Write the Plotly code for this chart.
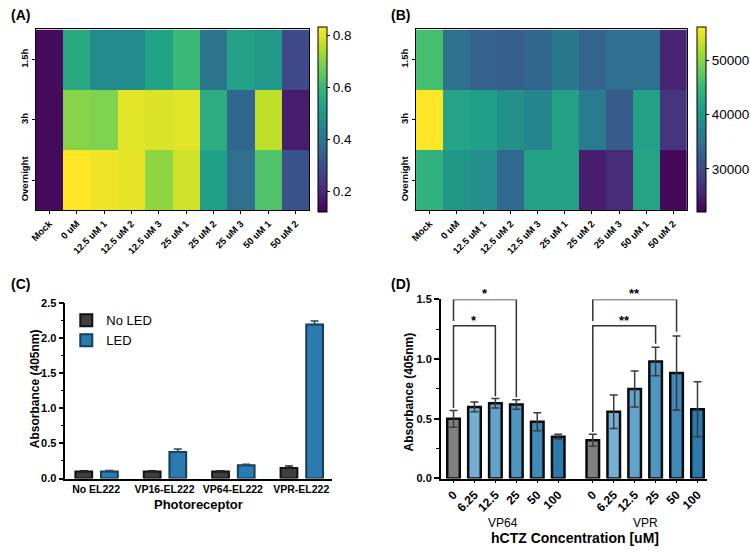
import plotly.graph_objects as go

FONT = "Liberation Sans, Arial, sans-serif"

# ---------------- data ----------------
conditions = ["Mock", "0 uM", "12.5 uM 1", "12.5 uM 2", "12.5 uM 3",
              "25 uM 1", "25 uM 2", "25 uM 3", "50 uM 1", "50 uM 2"]
timepoints = ["1.5h", "3h", "Overnight"]

# Panel A (absorbance heatmap)
a_15h = [0.14, 0.55, 0.46, 0.46, 0.53, 0.60, 0.40, 0.525, 0.50, 0.28]
a_3h = [0.14, 0.70, 0.69, 0.80, 0.795, 0.80, 0.56, 0.355, 0.76, 0.175]
a_ovn = [0.14, 0.83, 0.815, 0.805, 0.71, 0.78, 0.52, 0.38, 0.63, 0.30]

# Panel B (heatmap)
b_15h = [45800, 34600, 32500, 32200, 33200, 35600, 32900, 34200, 34200, 25400]
b_3h = [56000, 41700, 41000, 39000, 37600, 41400, 36300, 31900, 41400, 27100]
b_ovn = [43800, 40000, 39000, 33600, 41400, 41400, 24700, 26100, 41800, 22700]

# Panel C
photoreceptors = ["No EL222", "VP16-EL222", "VP64-EL222", "VPR-EL222"]
no_led_mean = [0.10, 0.10, 0.10, 0.15]
no_led_err = [0.01, 0.01, 0.01, 0.03]
led_mean = [0.10, 0.38, 0.19, 2.20]
led_err = [0.015, 0.04, 0.015, 0.05]

# Panel D
doses = ["0", "6.25", "12.5", "25", "50", "100"]
groups = ["VP64", "VPR"]
vp64_mean = [0.50, 0.60, 0.63, 0.62, 0.475, 0.35]
vp64_err = [0.07, 0.04, 0.04, 0.04, 0.075, 0.02]
vpr_mean = [0.32, 0.56, 0.75, 0.98, 0.885, 0.58]
vpr_err = [0.05, 0.14, 0.15, 0.12, 0.31, 0.23]
dose_colors = ["#808080", "#74b0d4", "#62a3cb", "#4f96c3", "#3f8abb", "#2a7aad"]

# significance brackets (group, from dose idx, to dose idx, top, left end, right end, label)
br_group = [0, 0, 1, 1]
br_from = [0, 0, 0, 0]
br_to = [3, 2, 4, 3]
br_top = [1.50, 1.28, 1.50, 1.28]
br_left_end = [1.32, 0.59, 1.32, 0.39]
br_right_end = [0.68, 0.69, 1.23, 1.13]
br_label = ["*", "*", "**", "**"]

# group underline extents in panel D (in dose-index units, relative to group start)
grp_line_lo = [-0.47, -0.35]
grp_line_hi = [5.2, 5.43]

# ---------------- layout helpers ----------------
W, H = 750, 552
GROUP_GAP = 6.65  # position offset of second group in panel D


def px_x(p):
    return p / W


def px_y(p):
    return 1 - p / H


fig = go.Figure()

hm_font = dict(family=FONT, size=9.5, color="black", weight="bold")
cb_common = dict(thickness=9, lenmode="pixels", len=185, yanchor="middle",
                 y=px_y(116.5), xanchor="left", outlinewidth=1, outlinecolor="black",
                 ticks="outside", ticklen=3, tickcolor="black",
                 tickfont=dict(family=FONT, size=13.5, color="black"), xpad=0, ypad=0)

fig.add_trace(go.Heatmap(
    x=conditions, y=timepoints, z=[a_15h, a_3h, a_ovn],
    colorscale="Viridis", zmin=0.12, zmax=0.83, xaxis="x", yaxis="y",
    colorbar=dict(cb_common, x=px_x(315), tickvals=[0.2, 0.4, 0.6, 0.8]),
))
fig.add_trace(go.Heatmap(
    x=conditions, y=timepoints, z=[b_15h, b_3h, b_ovn],
    colorscale="Viridis", zmin=22000, zmax=56000, xaxis="x2", yaxis="y2",
    colorbar=dict(cb_common, x=px_x(698), tickvals=[30000, 40000, 50000],
                  ticktext=["30000", "40000", "50000"]),
))

# Panel C bars
fig.add_trace(go.Bar(
    x=photoreceptors, y=no_led_mean, name="No LED", xaxis="x3", yaxis="y3",
    width=0.245, offset=-0.3025,
    marker=dict(color="#3f3f3f", line=dict(color="#111111", width=2)),
    error_y=dict(type="data", array=no_led_err, arrayminus=[0] * 4, symmetric=False,
                 color="#222222", thickness=1.5, width=4),
))
fig.add_trace(go.Bar(
    x=photoreceptors, y=led_mean, name="LED", xaxis="x3", yaxis="y3",
    width=0.245, offset=0.0725,
    marker=dict(color="#2b7bb0", line=dict(color="#173d57", width=2)),
    error_y=dict(type="data", array=led_err, arrayminus=[0] * 4, symmetric=False,
                 color="#1d4a66", thickness=1.5, width=4),
))

# Panel D bars
d_pos, d_mean, d_err, d_col, d_txt = [], [], [], [], []
for g, (means, errs) in enumerate([(vp64_mean, vp64_err), (vpr_mean, vpr_err)]):
    for i in range(len(doses)):
        d_pos.append(i + g * GROUP_GAP)
        d_mean.append(means[i])
        d_err.append(errs[i])
        d_col.append(dose_colors[i])
        d_txt.append(doses[i])

fig.add_trace(go.Bar(
    x=d_pos, y=d_mean, xaxis="x4", yaxis="y4", width=0.6, showlegend=False,
    marker=dict(color=d_col, line=dict(color="#0a0a0a", width=2.5)),
    error_y=dict(type="data", array=d_err, color="#3a3a3a", thickness=1.5, width=4),
))

# brackets
for k in range(len(br_label)):
    x0 = br_from[k] + br_group[k] * GROUP_GAP
    x1 = br_to[k] + br_group[k] * GROUP_GAP
    fig.add_trace(go.Scatter(
        x=[x0, x0, x1, x1], y=[br_left_end[k], br_top[k], br_top[k], br_right_end[k]],
        mode="lines", line=dict(color="#333333", width=1.5), xaxis="x4", yaxis="y4",
        cliponaxis=False, showlegend=False, hoverinfo="skip"))
    fig.add_annotation(x=(x0 + x1) / 2, y=br_top[k], xref="x4", yref="y4",
                       text=br_label[k], showarrow=False, xanchor="center",
                       yanchor="bottom", yshift=-4,
                       font=dict(family=FONT, size=13, color="black", weight="bold"))

# group underlines in D
for g, name in enumerate(groups):
    fig.add_trace(go.Scatter(
        x=[grp_line_lo[g] + g * GROUP_GAP, grp_line_hi[g] + g * GROUP_GAP], y=[-0.28, -0.28],
        mode="lines", line=dict(color="#333333", width=1.2), xaxis="x4", yaxis="y4",
        cliponaxis=False, showlegend=False, hoverinfo="skip"))
    fig.add_annotation(x=(grp_line_lo[g] + grp_line_hi[g]) / 2 + g * GROUP_GAP, y=px_y(528),
                       xref="x4", yref="paper", text=name, showarrow=False,
                       xanchor="center", yanchor="middle",
                       font=dict(family=FONT, size=12, color="black"))

# ---------------- axes ----------------
hm_x = dict(showline=True, mirror=True, linecolor="black", linewidth=1, ticks="outside",
            ticklen=3, tickcolor="black", tickangle=-45, tickfont=hm_font, showgrid=False)
hm_y = dict(showline=True, mirror=True, linecolor="black", linewidth=1, ticks="outside",
            ticklen=3, tickcolor="black", tickangle=-90, tickfont=hm_font, showgrid=False,
            autorange="reversed")

bar_y = dict(showline=True, linecolor="black", linewidth=1.5, ticks="outside", ticklen=5,
             tickwidth=1.5, tickcolor="black", showgrid=False, zeroline=False,
             tickfont=dict(family=FONT, size=11, color="black", weight="bold"),
             tickformat=".1f",
             minor=dict(ticks="outside", ticklen=3, tickwidth=1.2, tickcolor="black", dtick=0.25))

fig.update_layout(
    width=W, height=H, margin=dict(l=0, r=0, t=0, b=0),
    paper_bgcolor="white", plot_bgcolor="white",
    font=dict(family=FONT, color="black"),
    barmode="overlay",
    xaxis=dict(hm_x, domain=[px_x(29), px_x(306)], anchor="y"),
    yaxis=dict(hm_y, domain=[px_y(209), px_y(24)], anchor="x"),
    xaxis2=dict(hm_x, domain=[px_x(414), px_x(688)], anchor="y2"),
    yaxis2=dict(hm_y, domain=[px_y(209), px_y(24)], anchor="x2"),
    xaxis3=dict(domain=[px_x(59), px_x(329)], anchor="y3", type="category",
                range=[-0.45, 3.45], showline=True, linecolor="black", linewidth=1.5,
                ticks="", showgrid=False,
                tickfont=dict(family=FONT, size=10.5, color="black", weight="bold")),
    yaxis3=dict(bar_y, domain=[px_y(483), px_y(304)], anchor="x3", range=[0, 2.5],
                dtick=0.5),
    xaxis4=dict(domain=[px_x(439), px_x(708)], anchor="y4", range=[-0.61, 12.08],
                showline=True, linecolor="black", linewidth=1.5, ticks="outside",
                ticklen=3, tickcolor="black", showgrid=False, zeroline=False,
                tickvals=d_pos, ticktext=d_txt, tickangle=-45,
                tickfont=dict(family=FONT, size=12, color="black", weight="bold")),
    yaxis4=dict(bar_y, domain=[px_y(483), px_y(300)], anchor="x4", range=[0, 1.5],
                dtick=0.5),
    legend=dict(x=px_x(60), y=px_y(306), xanchor="left", yanchor="top",
                bgcolor="rgba(0,0,0,0)", font=dict(family=FONT, size=13, color="black"),
                tracegroupgap=0, itemwidth=30),
)

# axis titles and panel labels
title_font = dict(family=FONT, size=12, color="black", weight="bold")
fig.add_annotation(x=px_x(28), y=px_y(391), xref="paper", yref="paper", textangle=-90,
                   text="Absorbance (405nm)", showarrow=False, font=title_font,
                   xanchor="center", yanchor="middle")
fig.add_annotation(x=px_x(407), y=px_y(395), xref="paper", yref="paper", textangle=-90,
                   text="Absorbance (405nm)", showarrow=False, font=title_font,
                   xanchor="center", yanchor="middle")
fig.add_annotation(x=px_x(194), y=px_y(510), xref="paper", yref="paper",
                   text="Photoreceptor", showarrow=False, xanchor="center", yanchor="middle",
                   font=dict(family=FONT, size=13, color="black", weight="bold"))
fig.add_annotation(x=px_x(575), y=px_y(544), xref="paper", yref="paper",
                   text="hCTZ Concentration [uM]", showarrow=False,
                   xanchor="center", yanchor="middle",
                   font=dict(family=FONT, size=14, color="black", weight="bold"))

for lab, lx, ly in [("(A)", 2, 9), ("(B)", 387, 9), ("(C)", 2, 284), ("(D)", 387, 284)]:
    fig.add_annotation(x=px_x(lx), y=px_y(ly), xref="paper", yref="paper", text=lab,
                       showarrow=False, xanchor="left", yanchor="middle",
                       font=dict(family=FONT, size=14, color="black", weight="bold"))

fig.write_html("out.html")
